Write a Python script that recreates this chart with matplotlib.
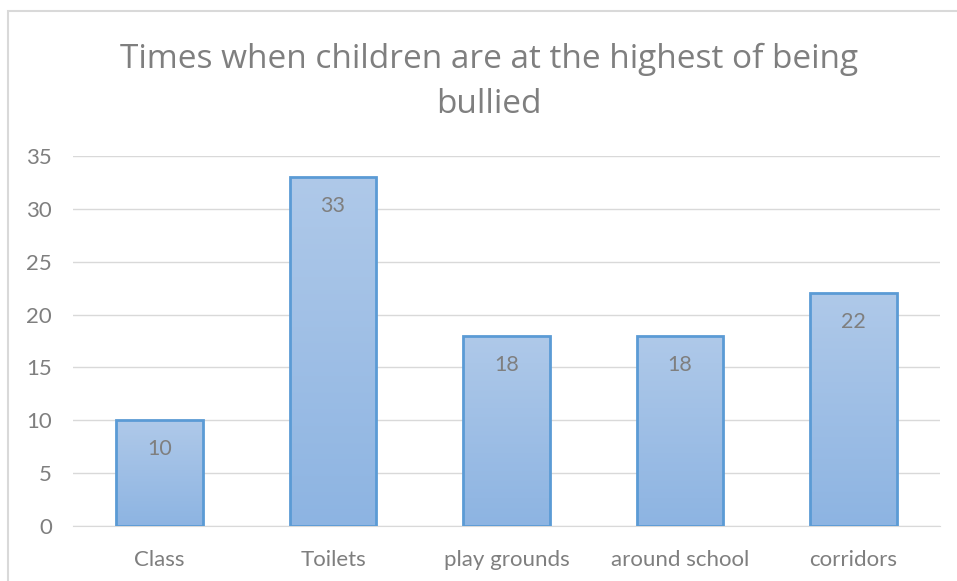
import matplotlib
matplotlib.use("Agg")
import matplotlib.pyplot as plt
import numpy as np
from matplotlib.patches import Rectangle
from matplotlib.colors import LinearSegmentedColormap

categories = ["Class", "Toilets", "play grounds", "around school", "corridors"]
values = [10, 33, 18, 18, 22]
yticks = [0, 5, 10, 15, 20, 25, 30, 35]
title = "Times when children are at the highest of being\nbullied"

plt.rcParams["font.family"] = ["Lato", "DejaVu Sans"]

W, H = 957, 581
fig = plt.figure(figsize=(W / 100, H / 100), dpi=100)
fig.patch.set_facecolor("white")

# outer chart frame
fig.add_artist(Rectangle((8 / W, -0.05), 1.2, 1 - 11 / H + 0.05,
                         transform=fig.transFigure, fill=False,
                         edgecolor="#d9d9d9", linewidth=1.5))

ax = fig.add_axes([73 / W, 1 - 526 / H, (940 - 73) / W, (526 - 156) / H])
x = np.arange(len(categories))
bars = ax.bar(x, values, width=0.5, facecolor="none", edgecolor="#5b9bd5",
              linewidth=2, zorder=3)

cmap = LinearSegmentedColormap.from_list("fill", ["#8db4e2", "#afc9e9"])
grad = np.linspace(0, 1, 256).reshape(-1, 1)
for b, v in zip(bars, values):
    x0 = b.get_x()
    im = ax.imshow(grad, cmap=cmap, origin="lower", aspect="auto",
                   extent=(x0, x0 + b.get_width(), 0, v), zorder=2)
    im.set_clip_path(b)
    ax.annotate(f"{v}", (b.get_x() + b.get_width() / 2, v),
                xytext=(0, -29), textcoords="offset pixels",
                ha="center", va="center", fontsize=15.5, color="#7f7f7f",
                zorder=4)

ax.set_xlim(-0.5, len(categories) - 0.5)
ax.set_ylim(0, 35)
ax.set_yticks(yticks)
ax.set_xticks(x)
ax.set_xticklabels(categories)
ax.grid(axis="y", color="#d9d9d9", linewidth=1, zorder=0)
ax.set_axisbelow(True)
for s in ["top", "right", "left"]:
    ax.spines[s].set_visible(False)
ax.spines["bottom"].set_color("#d9d9d9")
ax.tick_params(axis="both", length=0, colors="#7f7f7f", labelsize=16)
ax.tick_params(axis="y", pad=15)
ax.tick_params(axis="x", pad=17)

fig.text(489 / W, 1 - 82 / H, title, ha="center", va="center",
         fontsize=24, color="#7f7f7f", linespacing=1.45,
         family=["Open Sans", "DejaVu Sans"])

fig.savefig("out.png", dpi=100)
